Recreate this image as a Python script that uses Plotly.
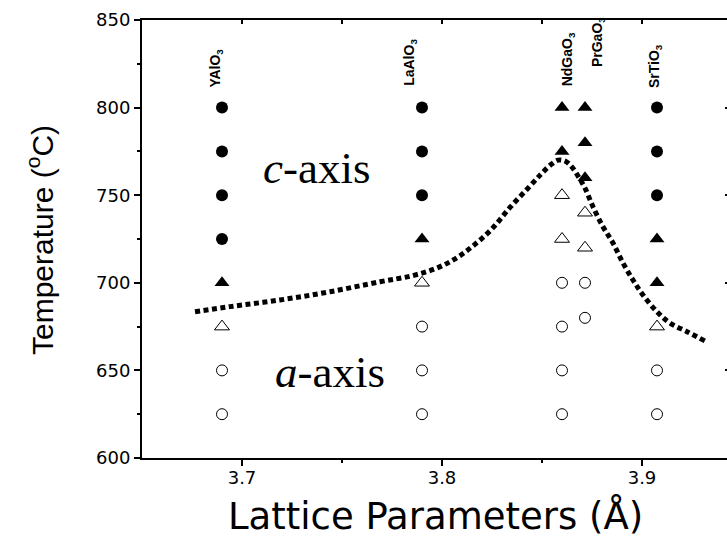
import plotly.graph_objects as go

# ---- data ----
substrates = ["YAlO<sub>3</sub>", "LaAlO<sub>3</sub>", "NdGaO<sub>3</sub>", "PrGaO<sub>3</sub>", "SrTiO<sub>3</sub>"]
lattice = [3.69, 3.79, 3.86, 3.8715, 3.9075]

# c-axis (filled circles)
c_circ_x = [3.69, 3.69, 3.69, 3.69, 3.79, 3.79, 3.79, 3.9075, 3.9075, 3.9075]
c_circ_y = [800, 775, 750, 725, 800, 775, 750, 800, 775, 750]
# c-axis (filled triangles)
c_tri_x = [3.69, 3.79, 3.86, 3.86, 3.8715, 3.8715, 3.8715, 3.9075, 3.9075]
c_tri_y = [700, 725, 800, 775, 800, 780, 760, 725, 700]
# a-axis (open triangles)
a_tri_x = [3.69, 3.79, 3.86, 3.86, 3.8715, 3.8715, 3.9075]
a_tri_y = [675, 700, 750, 725, 740, 720, 675]
# a-axis (open circles)
a_circ_x = [3.69, 3.69, 3.79, 3.79, 3.79, 3.86, 3.86, 3.86, 3.86, 3.8715, 3.8715, 3.9075, 3.9075]
a_circ_y = [650, 625, 675, 650, 625, 700, 675, 650, 625, 700, 680, 650, 625]

# boundary curve
curve_x = [3.6765, 3.694, 3.719, 3.744, 3.769, 3.785, 3.797, 3.807, 3.816, 3.825, 3.834, 3.843,
           3.8495, 3.8545, 3.858, 3.8615, 3.865, 3.8685, 3.8715, 3.8755, 3.8805, 3.8855, 3.8905,
           3.8955, 3.9005, 3.9075, 3.914, 3.9225, 3.9315]
curve_y = [683.5, 686.4, 690.2, 694.9, 700.6, 704.0, 708.2, 714.0, 721.5, 730.8, 743.0, 754.0,
           762.0, 767.5, 770.0, 769.5, 766.0, 760.0, 754.0, 743.4, 732.0, 722.7, 711.3,
           701.6, 693.0, 683.5, 677.0, 672.1, 666.8]

x_ticks = [3.7, 3.8, 3.9]
y_ticks = [600, 650, 700, 750, 800, 850]

XR = [3.65, 3.9425]
YR = [600, 850]

fig = go.Figure()

fig.add_trace(go.Scatter(x=a_circ_x, y=a_circ_y, mode="markers",
                         marker=dict(symbol="circle-open", size=11, color="black", line=dict(width=1)),
                         showlegend=False))
fig.add_trace(go.Scatter(x=a_tri_x, y=a_tri_y, mode="markers",
                         marker=dict(symbol="triangle-up-open", size=13, color="black", line=dict(width=1)),
                         showlegend=False))
fig.add_trace(go.Scatter(x=c_circ_x, y=c_circ_y, mode="markers",
                         marker=dict(symbol="circle", size=12, color="black", line=dict(width=0)),
                         showlegend=False))
fig.add_trace(go.Scatter(x=c_tri_x, y=c_tri_y, mode="markers",
                         marker=dict(symbol="triangle-up", size=13, color="black", line=dict(width=0)),
                         showlegend=False))
fig.add_trace(go.Scatter(x=curve_x, y=curve_y, mode="lines",
                         line=dict(color="black", width=5, dash="5px,3.5px", shape="spline"),
                         showlegend=False))
# invisible trace to anchor secondary axes
fig.add_trace(go.Scatter(x=[None], y=[None], xaxis="x2", yaxis="y2", showlegend=False, hoverinfo="skip"))

# substrate labels (rotated)
label_bottom = [810, 811, 811, 822, 810]
label_dx = [-0.003, -0.006, 0.003, 0.0065, -0.001]
for name, lx, lb, dx in zip(substrates, lattice, label_bottom, label_dx):
    fig.add_annotation(x=lx + dx, y=lb, xref="x", yref="y", text="<b>" + name + "</b>",
                       textangle=-90, showarrow=False, xanchor="center", yanchor="bottom",
                       font=dict(family="Liberation Sans, Arial", size=14, color="black"))

# pixel -> paper helpers
def px(xp):
    return (xp - 142) / 585.0
def py(yp):
    return (458 - yp) / 438.0

fig.add_annotation(x=px(316), y=py(168), xref="paper", yref="paper",
                   text="<i>c</i>-axis", showarrow=False, xanchor="center", yanchor="middle",
                   font=dict(family="Liberation Serif, Times New Roman", size=45, color="black"))
fig.add_annotation(x=px(330), y=py(372), xref="paper", yref="paper",
                   text="<i>a</i>-axis", showarrow=False, xanchor="center", yanchor="middle",
                   font=dict(family="Liberation Serif, Times New Roman", size=45, color="black"))

# axis titles
fig.add_annotation(x=px(40), y=py(240), xref="paper", yref="paper",
                   text="Temperature (<sup>o</sup>C)", textangle=-90, showarrow=False,
                   xanchor="center", yanchor="middle",
                   font=dict(family="Liberation Sans, Arial", size=30, color="black"))
fig.add_annotation(x=px(435), y=py(516), xref="paper", yref="paper",
                   text="Lattice Parameters (Å)", showarrow=False,
                   xanchor="center", yanchor="middle",
                   font=dict(family="DejaVu Sans", size=37, color="black"))

axis_font = dict(family="DejaVu Sans", size=18, color="black")

fig.update_layout(
    width=727, height=541,
    margin=dict(l=142, r=0, t=20, b=83),
    paper_bgcolor="white", plot_bgcolor="white",
    xaxis=dict(range=XR, tickvals=x_ticks, ticktext=[f"{v:.1f}" for v in x_ticks],
               showgrid=False, zeroline=False, showline=True, linecolor="black", linewidth=2,
               mirror=True, ticks="outside", ticklen=6, tickwidth=2, tickcolor="black",
               tickfont=axis_font, ticklabelstandoff=-4,
               minor=dict(tickvals=[3.75, 3.85], ticks="outside", ticklen=3, tickwidth=2,
                          tickcolor="black", showgrid=False)),
    yaxis=dict(range=YR, tickvals=y_ticks, showgrid=False, zeroline=False, showline=True,
               linecolor="black", linewidth=2, mirror=False, ticks="outside", ticklen=6,
               tickwidth=2, tickcolor="black", tickfont=axis_font,
               minor=dict(tickvals=[625, 675, 725, 775, 825], ticks="outside", ticklen=3,
                          tickwidth=2, tickcolor="black", showgrid=False)),
    xaxis2=dict(range=XR, overlaying="x", side="top", showgrid=False, zeroline=False,
                showline=False, ticks="inside", ticklen=4, tickwidth=2, tickcolor="black",
                tickvals=[3.7, 3.75, 3.8, 3.85, 3.9], showticklabels=False),
    yaxis2=dict(range=YR, overlaying="y", side="right", showgrid=False, zeroline=False,
                showline=False, ticks="inside", ticklen=2, tickwidth=2, tickcolor="black",
                tickvals=[650, 700, 750, 800], showticklabels=False),
)

fig.write_html("out.html")
